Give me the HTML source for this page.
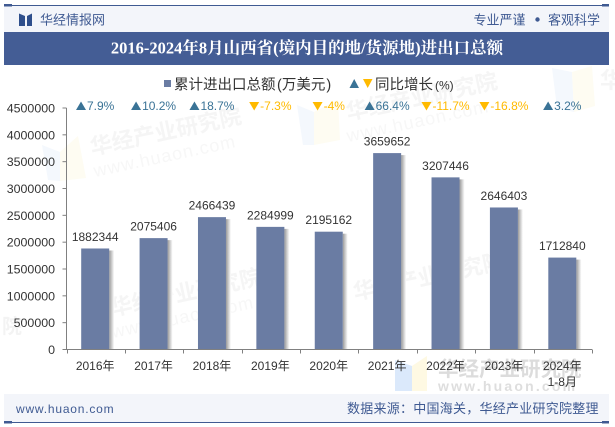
<!DOCTYPE html>
<html lang="zh">
<head>
<meta charset="utf-8">
<title>2016-2024年8月山西省(境内目的地/货源地)进出口总额</title>
<style>
html,body{margin:0;padding:0;background:#fff;}
body{width:615px;height:427px;overflow:hidden;}
svg{display:block;font-family:"Liberation Sans","Noto Sans CJK SC",sans-serif;}
</style>
</head>
<body>
<svg id="chart" xmlns="http://www.w3.org/2000/svg" width="615" height="427" viewBox="0 0 615 427">
  <defs>
    <linearGradient id="barShadow" x1="0" x2="1" y1="0" y2="0">
      <stop offset="0" stop-color="#999"/>
      <stop offset="1" stop-color="#fff"/>
    </linearGradient>
  </defs>
  <rect x="0" y="0" width="615" height="427" fill="#fff"/>
  <g id="watermarks">
    <polygon points="42,145 60,152 60,181 48,180" fill="#f4f8fd"/>
    <polygon points="60,152 78,136 86,178 60,181" fill="#fefcf2"/>
    <text x="92" y="155" font-size="22" font-weight="bold" fill="#f5f5f5" transform="rotate(-12 92 155)">华经产业研究院</text>
    <text x="95" y="177" font-size="18" fill="#f7f7f7" letter-spacing="1" transform="rotate(-12 95 177)">www.huaon.com</text>
    <polygon points="297,105 314,112 314,145 303,145" fill="#f4f8fd"/>
    <polygon points="314,112 338,100 340,140 314,145" fill="#fefcf2"/>
    <text x="348" y="120" font-size="22" font-weight="bold" fill="#f5f5f5" transform="rotate(-12 348 120)">华经产业研究院</text>
    <text x="348" y="142" font-size="18" fill="#f7f7f7" letter-spacing="1" transform="rotate(-12 348 142)">www.huaon.com</text>
    <polygon points="552,68 572,72 574,112 557,108" fill="#f4f8fd"/>
    <polygon points="572,72 592,66 595,106 574,112" fill="#fefcf2"/>
    <text x="600" y="88" font-size="22" font-weight="bold" fill="#f5f5f5">华</text>
    <text x="112" y="316" font-size="22" font-weight="bold" fill="#f5f5f5" transform="rotate(-12 112 316)">华经产业研究院</text>
    <text x="113" y="338" font-size="18" fill="#f7f7f7" letter-spacing="1" transform="rotate(-12 113 338)">www.huaon.com</text>
    <text x="355" y="300" font-size="22" font-weight="bold" fill="#f5f5f5" transform="rotate(-12 355 300)">华经产业研究院</text>
    <text x="2" y="333" font-size="20" font-weight="bold" fill="#f3f3f3">院</text>
    <polygon points="395,360 412,366 412,391 395,391" fill="#dbe9fb"/>
    <polygon points="412,366 427,356 427,391 412,391" fill="#fef9e3"/>
    <text x="438" y="376" font-size="20.5" font-weight="bold" fill="#dcdcdc">华经产业研究院</text>
    <text x="438" y="391" font-size="14" font-weight="bold" fill="#dedede" letter-spacing="2.2">www.huaon.com</text>
  </g>

  <rect x="4" y="6" width="605" height="26" fill="#f3f5fa"/>
  <line x1="4" y1="5.5" x2="609" y2="5.5" stroke="#3f5a92" stroke-width="1"/>
  <rect x="4" y="4" width="8" height="2.5" fill="#3f5a92"/>
  <rect x="602" y="4" width="7" height="2.5" fill="#3f5a92"/>
  <g>
    <polygon points="19,13.5 25,16 25,26 19,26" fill="#2f4f8c"/>
    <polygon points="32,13.5 27,16 27,26 32,26" fill="#2f4f8c"/>
  </g>
  <text x="40" y="24.5" font-size="13" fill="#3f5a92">华经情报网</text>
  <text x="473.5" y="24.5" font-size="13" fill="#3f5a92">专业严谨</text>
  <circle cx="537.5" cy="19.5" r="2.2" fill="#3f5a92"/>
  <text x="548" y="24.5" font-size="13" fill="#3f5a92">客观科学</text>

  <rect x="4" y="32" width="605" height="33" fill="#445d95"/>
  <text x="307" y="53.5" font-size="16.5" font-weight="bold" fill="#fff" text-anchor="middle" font-family="'Liberation Serif','Noto Serif CJK SC',serif">2016-2024年8月山西省(境内目的地/货源地)进出口总额</text>

  <g>
    <rect x="164" y="80" width="7" height="7" fill="#6a7ca3"/>
    <text x="174" y="89.5" font-size="14.5" fill="#333">累计进出口总额<tspan dx="1.5">(</tspan>万美元<tspan dx="1">)</tspan></text>
    <polygon points="349.5,88 359,88 354.2,79" fill="#3a7396"/>
    <polygon points="363,79 372.5,79 367.7,88" fill="#ffba00"/>
    <text x="375" y="89.5" font-size="14.5" fill="#333">同比增长<tspan dx="2" font-size="12">(%)</tspan></text>
  </g>

  <g id="bars"></g>
  <g id="axes"></g>
  <g id="labels"></g>

  <rect x="4" y="394" width="605" height="28" fill="#f3f5fa"/>
  <line x1="4" y1="422.5" x2="609" y2="422.5" stroke="#3f5a92" stroke-width="1"/>
  <rect x="4" y="421" width="8" height="2.5" fill="#3f5a92"/>
  <rect x="602" y="421" width="7" height="2.5" fill="#3f5a92"/>
  <text x="16" y="413" font-size="12" fill="#3f5a92" letter-spacing="0.8">www.huaon.com</text>
  <text x="347" y="413" font-size="13" fill="#3f5a92" letter-spacing="0.25">数据来源：中国海关，华经产业研究院整理</text>
</svg>
<script>
var categories = ["2016年","2017年","2018年","2019年","2020年","2021年","2022年","2023年","2024年|1-8月"];
var totalValues = [1882344,2075406,2466439,2284999,2195162,3659652,3207446,2646403,1712840];
var yoyValues = [7.9,10.2,18.7,-7.3,-4,66.4,-11.7,-16.8,3.2];
var yTicks = [0,500000,1000000,1500000,2000000,2500000,3000000,3500000,4000000,4500000];

var NS = "http://www.w3.org/2000/svg";
var plotLeft = 66.5, plotRight = 592, plotTop = 108, plotBottom = 349.5;
var yMax = yTicks[yTicks.length - 1];
var barWidth = 28;
function xBand(i){ return plotLeft + (plotRight - plotLeft) * i / categories.length; }
function xCenter(i){ return plotLeft + (plotRight - plotLeft) * (i + 0.5) / categories.length; }
function yScale(v){ return plotBottom - (plotBottom - plotTop) * v / yMax; }
function make(tag, attrs, parent, text){
  var el = document.createElementNS(NS, tag);
  for (var k in attrs) el.setAttribute(k, attrs[k]);
  if (text !== undefined) el.textContent = text;
  parent.appendChild(el);
  return el;
}
var barsG = document.getElementById("bars");
var axesG = document.getElementById("axes");
var labelsG = document.getElementById("labels");
var axisColor = "#808080", textColor = "#333";

totalValues.forEach(function(v, i){
  var top = yScale(v), cx = xCenter(i) - 0.5;
  var shadow = make("rect", {x: cx + barWidth/2, y: top + 2, width: 5, height: plotBottom - top - 2, fill: "url(#barShadow)"}, barsG);
  
  
  var bar = make("rect", {x: cx - barWidth/2, y: top, width: barWidth, height: plotBottom - top, fill: "#6a7ca3"}, barsG);
  
  
  var valueLabel = make("text", {x: cx, y: top - 7.5, "font-size": 12, fill: textColor, "text-anchor": "middle"}, labelsG, String(v));
  
  
});

var yAxis = make("line", {x1: plotLeft, y1: plotTop, x2: plotLeft, y2: plotBottom, stroke: axisColor}, axesG);


var xAxis = make("line", {x1: plotLeft, y1: plotBottom, x2: plotRight, y2: plotBottom, stroke: axisColor}, axesG);



yTicks.forEach(function(t){
  var y = yScale(t);
  var tick = make("line", {x1: plotLeft - 4, y1: y, x2: plotLeft, y2: y, stroke: axisColor}, axesG);
  
  
  var lab = make("text", {x: 55, y: y + 4.5, "font-size": 12.4, fill: textColor, "text-anchor": "end"}, labelsG, String(t));
  
  
});

for (var b = 0; b <= categories.length; b++){
  var bx = Math.round(xBand(b)) + 0.5;
  var xt = make("line", {x1: bx, y1: plotBottom, x2: bx, y2: plotBottom + 4, stroke: axisColor}, axesG);
  
  
}

categories.forEach(function(c, i){
  var parts = c.split("|");
  parts.forEach(function(p, j){
    var lab = make("text", {x: xCenter(i) - 0.5, y: 370 + j * 16, "font-size": 12, fill: textColor, "text-anchor": "middle"}, labelsG, p);
    
    
  });
});

yoyValues.forEach(function(v, i){
  var up = v >= 0;
  var color = up ? "#3a7396" : "#ffba00";
  var triW = 10;
  var lab = make("text", {x: 0, y: 110, "font-size": 12, fill: color}, labelsG, v + "%");
  
  
  var textW = lab.getComputedTextLength();
  var startX = xCenter(i) - 0.5 - (triW + textW + 1) / 2;
  lab.setAttribute("x", startX + triW + 1);
  var pts = up
    ? [[startX, 110], [startX + triW, 110], [startX + triW / 2, 101.5]]
    : [[startX, 102], [startX + triW, 102], [startX + triW / 2, 110.5]];
  var tri = make("polygon", {points: pts.map(function(p){ return p.join(","); }).join(" "), fill: color}, labelsG);
  
  
});
</script>
</body>
</html>
